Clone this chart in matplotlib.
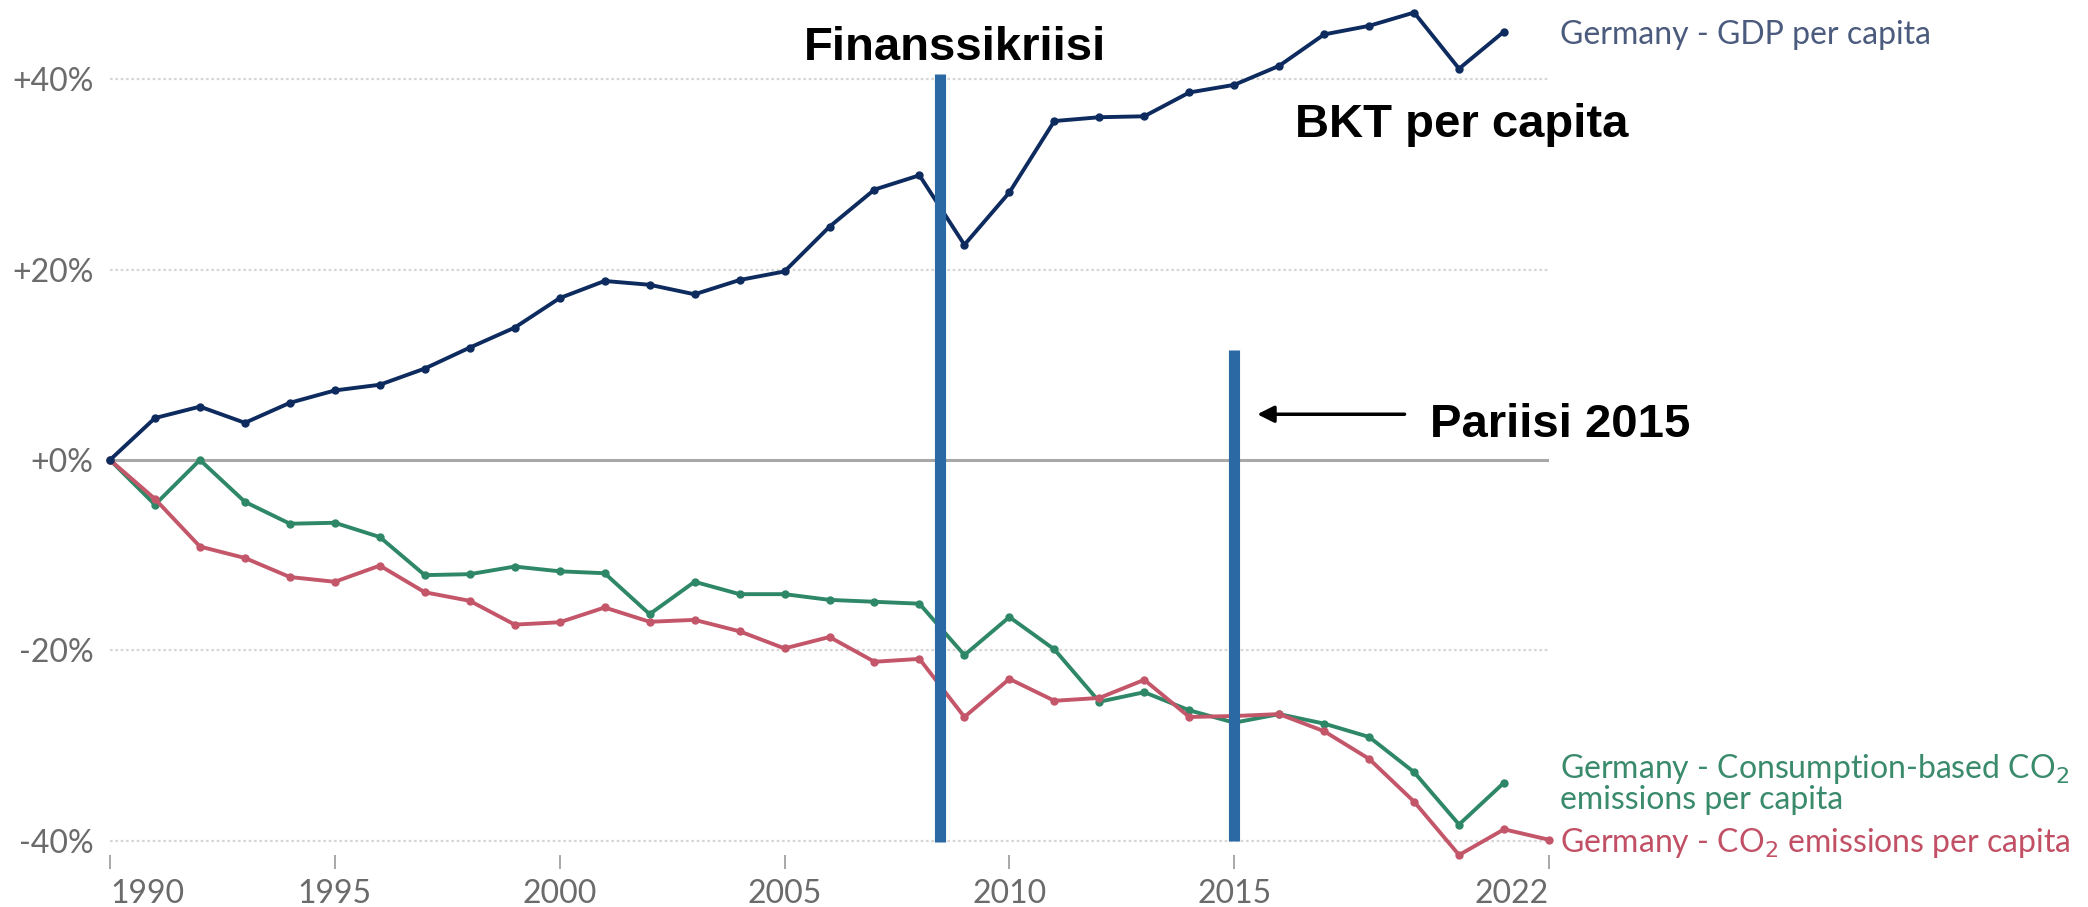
import matplotlib.pyplot as plt
import matplotlib.ticker as mticker

# Data (prosenttimuutos vuodesta 1990)
years = list(range(1990, 2023))
gdp = [0, 4.4, 5.6, 3.9, 6.0, 7.3, 7.9, 9.6, 11.8, 13.9, 17.0, 18.8, 18.4, 17.4,
       18.9, 19.8, 24.5, 28.4, 29.9, 22.6, 28.1, 35.6, 36.0, 36.1, 38.6, 39.4,
       41.4, 44.7, 45.6, 47.0, 41.1, 45.0]
consumption = [0, -4.7, 0.0, -4.4, -6.7, -6.6, -8.1, -12.1, -12.0, -11.2, -11.7, -11.9,
               -16.2, -12.8, -14.1, -14.1, -14.7, -14.9, -15.1, -20.5, -16.5, -19.9,
               -25.4, -24.4, -26.3, -27.6, -26.7, -27.7, -29.1, -32.8, -38.3, -33.9]
co2 = [0, -4.1, -9.1, -10.3, -12.3, -12.8, -11.1, -13.9, -14.8, -17.3, -17.05, -15.5,
       -17.0, -16.8, -18.0, -19.8, -18.6, -21.2, -20.9, -27.0, -23.0, -25.3, -25.0,
       -23.1, -27.0, -26.9, -26.7, -28.5, -31.4, -35.9, -41.5, -38.8, -39.9]

x_ticks = [1990, 1995, 2000, 2005, 2010, 2015, 2022]
y_ticks = [-40, -20, 0, 20, 40]

navy = '#0d2b5e'
green = '#2e8767'
red = '#c4566a'
bar_blue = '#2a69a3'

fig = plt.figure(figsize=(20.88, 9.07), dpi=100)
ax = fig.add_axes([110 / 2088, 1 - 855 / 907, (1549 - 110) / 2088, (855 - 3) / 907])

# Ruudukko
for v in y_ticks:
    if v == 0:
        ax.axhline(v, color='#a8a8a8', linewidth=2.2, zorder=1)
    else:
        ax.axhline(v, color='#d6d6d6', linewidth=1.6, linestyle=(0, (1.2, 1.2)), zorder=0)

# Sarjat
ax.plot(years[:len(gdp)], gdp, color=navy, lw=2.8, marker='o', ms=5, zorder=4, clip_on=False)
ax.plot(years[:len(consumption)], consumption, color=green, lw=2.8, marker='o', ms=5, zorder=3, clip_on=False)
ax.plot(years[:len(co2)], co2, color=red, lw=2.8, marker='o', ms=5, zorder=3, clip_on=False)

# Pystypalkit
ax.vlines(2008.45, -40.1, 40.5, color=bar_blue, linewidth=8, zorder=5)
ax.vlines(2015, -40.0, 11.5, color=bar_blue, linewidth=8, zorder=5)

# Tekstit
bold = dict(family='Liberation Sans', weight='bold', size=34, color='black')
ax.text(2008.79, 42.0, 'Finanssikriisi', ha='center', va='baseline', **bold)
ax.text(2016.36, 33.9, 'BKT per capita', ha='left', va='baseline', **bold)
ax.text(2019.36, 2.4, 'Pariisi 2015', ha='left', va='baseline', **bold)
ax.annotate('', xy=(2015.45, 4.8), xytext=(2018.85, 4.8),
            arrowprops=dict(arrowstyle='-|>', color='black', lw=2.5, mutation_scale=25))

# Sarjojen nimet oikealla
lab = dict(family='Lato', size=23, ha='left', va='center', clip_on=False)
ax.text(2022.25, 44.6, 'Germany - GDP per capita', color='#4b5b7d', **lab)
ax.text(2022.25, -34.0, 'Germany - Consumption-based CO$_2$\nemissions per capita',
        color='#3a8a6c', linespacing=0.95, **lab)
ax.text(2022.25, -40.2, 'Germany - CO$_2$ emissions per capita', color='#c15065', **lab)

# Akselit
ax.set_xlim(1990, 2022)
ax.set_ylim(-41.5, 48)
ax.set_yticks(y_ticks)
ax.yaxis.set_major_formatter(mticker.FuncFormatter(lambda v, p: f'{v:+.0f}%' if v >= 0 else f'{v:.0f}%'))
ax.set_xticks(x_ticks)
ax.set_xticklabels([str(y) for y in x_ticks])
for i, t in enumerate(ax.get_xticklabels()):
    if i == 0:
        t.set_ha('left')
    elif i == len(x_ticks) - 1:
        t.set_ha('right')
for t in ax.get_xticklabels() + ax.get_yticklabels():
    t.set_family('Lato')
    t.set_fontsize(23)
    t.set_color('#6b6b6b')
ax.tick_params(axis='y', length=0, pad=12)
ax.tick_params(axis='x', length=10, width=1.2, color='#999999', pad=7)
for s in ax.spines.values():
    s.set_visible(False)

fig.savefig('out.png', dpi=100)
